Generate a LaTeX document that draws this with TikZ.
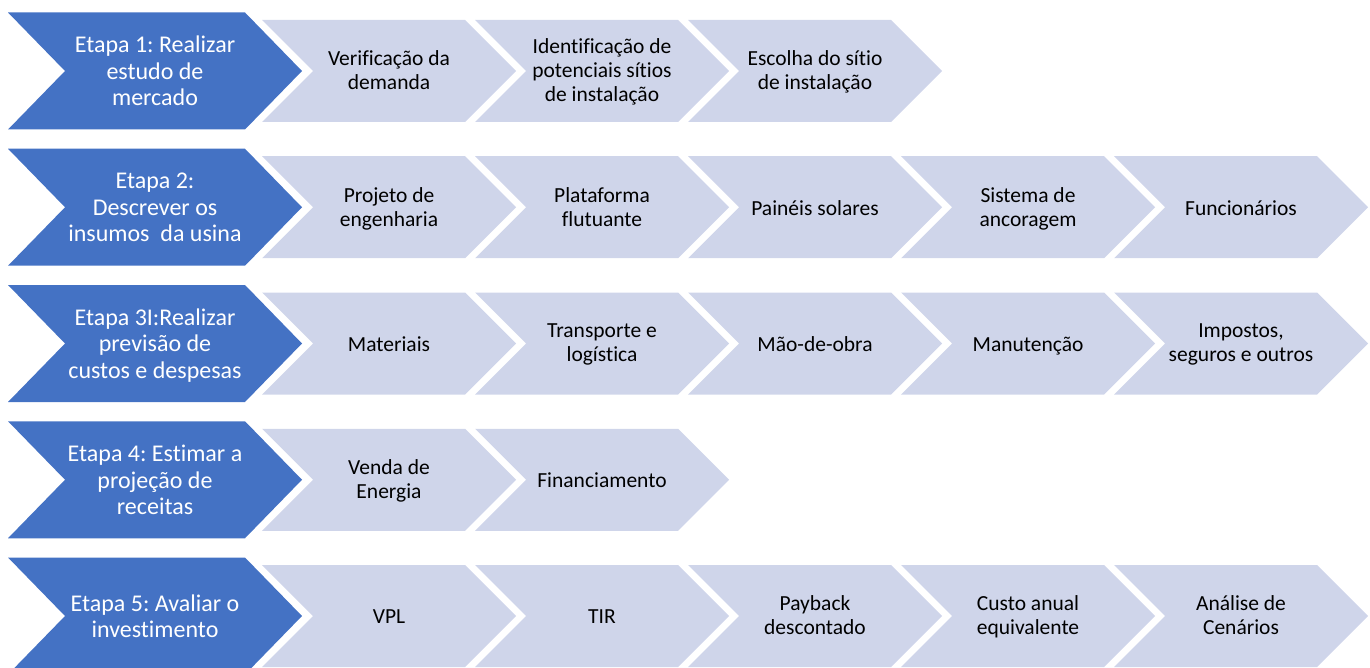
\documentclass[tikz,border=0pt]{standalone}
\usepackage{fontspec}
\setmainfont{Carlito}[Ligatures=CommonOff]
\frenchspacing
\definecolor{azuletapa}{HTML}{4472C4}
\definecolor{azulclaro}{HTML}{CFD5EA}

\begin{document}
\begin{tikzpicture}[x=1pt,y=-1pt,
    etapa/.style={fill=azuletapa},
    passo/.style={fill=azulclaro},
    txtetapa/.style={align=center,text=white,font=\fontsize{24}{26.5}\selectfont,yshift=-4pt,
      execute at begin node=\strut,execute at end node=\strut},
    txtpasso/.style={align=center,text=black,font=\fontsize{21.5}{24}\selectfont,yshift=-3pt,
      execute at begin node=\strut,execute at end node=\strut}]
	\useasboundingbox (0,0) rectangle (1370,668);
	\clip (0,0) rectangle (1370,668);
	% etapas (setas grandes)
	\foreach \r/\txt in {1/{Etapa 1: Realizar\\estudo de\\mercado},
	                     2/{Etapa 2:\\Descrever os\\insumos~ da usina},
	                     3/{Etapa 3I:Realizar\\previsão de\\custos e despesas},
	                     4/{Etapa 4: Estimar a\\projeção de\\receitas},
	                     5/{Etapa 5: Avaliar o\\investimento}} {
		\pgfmathsetmacro\c{71+136.25*(\r-1)}
		\fill[etapa] (8,\c-58.5) -- (245,\c-58.5) -- (302,\c) -- (245,\c+58.5) -- (8,\c+58.5) -- (65,\c) -- cycle;
		\node[txtetapa] (e\r) at (155,\c) {\txt};
	}
	% linha 1
	\foreach \txt [count=\n from 0] in {{Verificação da\\demanda},
	        {Identificação de\\potenciais sítios\\de instalação},
	        {Escolha do sítio\\de instalação}} {
		\pgfmathsetmacro\L{262+213*\n}
		\fill[passo] (\L,20) -- (\L+203,20) -- (\L+254,71) -- (\L+203,122) -- (\L,122) -- (\L+51,71) -- cycle;
		\node[txtpasso] (a\n) at (\L+127,71) {\txt};
	}
	% linha 2
	\foreach \txt [count=\n from 0] in {{Projeto de\\engenharia}, {Plataforma\\flutuante},
	        {Painéis solares}, {Sistema de\\ancoragem}, {Funcionários}} {
		\pgfmathsetmacro\L{262+213*\n}
		\fill[passo] (\L,156.25) -- (\L+203,156.25) -- (\L+254,207.25) -- (\L+203,258.25) -- (\L,258.25) -- (\L+51,207.25) -- cycle;
		\node[txtpasso] (b\n) at (\L+127,207.25) {\txt};
	}
	% linha 3
	\foreach \txt [count=\n from 0] in {{Materiais}, {Transporte e\\logística},
	        {Mão-de-obra}, {Manutenção}, {Impostos,\\seguros e outros}} {
		\pgfmathsetmacro\L{262+213*\n}
		\fill[passo] (\L,292.5) -- (\L+203,292.5) -- (\L+254,343.5) -- (\L+203,394.5) -- (\L,394.5) -- (\L+51,343.5) -- cycle;
		\node[txtpasso] (c\n) at (\L+127,343.5) {\txt};
	}
	% linha 4
	\foreach \txt [count=\n from 0] in {{Venda de\\Energia}, {Financiamento}} {
		\pgfmathsetmacro\L{262+213*\n}
		\fill[passo] (\L,428.75) -- (\L+203,428.75) -- (\L+254,479.75) -- (\L+203,530.75) -- (\L,530.75) -- (\L+51,479.75) -- cycle;
		\node[txtpasso] (d\n) at (\L+127,479.75) {\txt};
	}
	% linha 5
	\foreach \txt [count=\n from 0] in {{VPL}, {TIR}, {Payback\\descontado},
	        {Custo anual\\equivalente}, {Análise de\\Cenários}} {
		\pgfmathsetmacro\L{262+213*\n}
		\fill[passo] (\L,565) -- (\L+203,565) -- (\L+254,616) -- (\L+203,667) -- (\L,667) -- (\L+51,616) -- cycle;
		\node[txtpasso] (f\n) at (\L+127,616) {\txt};
	}
\end{tikzpicture}
\end{document}
